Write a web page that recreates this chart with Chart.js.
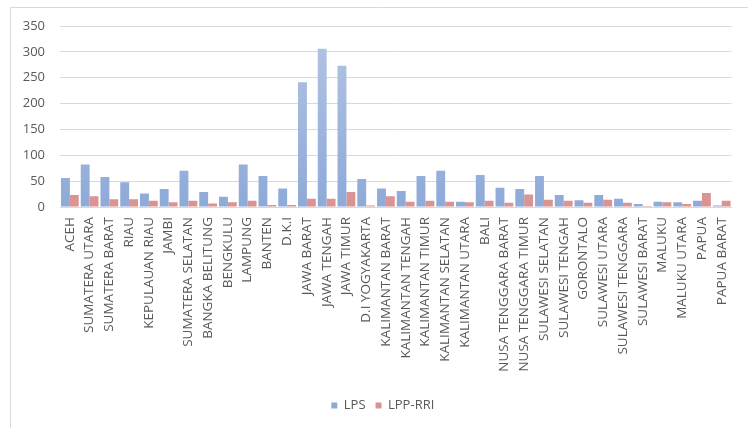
<!DOCTYPE html>
<html>
<head>
<meta charset="utf-8">
<script src="https://cdn.jsdelivr.net/npm/chart.js@4.4.1/dist/chart.umd.min.js"></script>
<style>
  html, body { margin: 0; padding: 0; background: #ffffff; }
  #wrap { position: relative; width: 748px; height: 428px; }
  canvas { display: block; }
</style>
</head>
<body>
<div id="wrap"><canvas id="chart" width="748" height="428"></canvas></div>
<script>
// Provinces along the horizontal axis
const provinces = [
  "ACEH", "SUMATERA UTARA", "SUMATERA BARAT", "RIAU", "KEPULAUAN RIAU", "JAMBI",
  "SUMATERA SELATAN", "BANGKA BELITUNG", "BENGKULU", "LAMPUNG", "BANTEN", "D.K.I",
  "JAWA BARAT", "JAWA TENGAH", "JAWA TIMUR", "D.I YOGYAKARTA", "KALIMANTAN BARAT",
  "KALIMANTAN TENGAH", "KALIMANTAN TIMUR", "KALIMANTAN SELATAN", "KALIMANTAN UTARA",
  "BALI", "NUSA TENGGARA BARAT", "NUSA TENGGARA TIMUR", "SULAWESI SELATAN",
  "SULAWESI TENGAH", "GORONTALO", "SULAWESI UTARA", "SULAWESI TENGGARA",
  "SULAWESI BARAT", "MALUKU", "MALUKU UTARA", "PAPUA", "PAPUA BARAT"
];

// Counts per province
const lpsValues = [56, 82, 58, 48, 26, 35, 70, 29, 20, 82, 60, 36, 241, 306, 273, 54, 36, 31,
                   60, 70, 10, 62, 37, 35, 60, 23, 13, 23, 16, 6, 10, 9, 12, 3];
const lppRriValues = [23, 21, 15, 15, 12, 9, 12, 7, 9, 12, 4, 4, 16, 16, 29, 3, 21, 10,
                      12, 10, 9, 12, 8, 24, 14, 12, 8, 14, 8, 2, 9, 6, 27, 12];

const seriesNames = ["LPS", "LPP-RRI"];
const yTicks = [0, 50, 100, 150, 200, 250, 300, 350];

const textColor = "#595959";
const gridColor = "#d9d9d9";
const fontFamily = "'Open Sans', 'Liberation Sans', sans-serif";

// Vertical gradient fill, light at the top of the plot and deeper at the base
function gradientFill(top, bottom) {
  return (ctx) => {
    const area = ctx.chart.chartArea;
    if (!area) return bottom;
    const g = ctx.chart.ctx.createLinearGradient(0, area.top, 0, area.bottom);
    g.addColorStop(0, top);
    g.addColorStop(1, bottom);
    return g;
  };
}

// Thin frame line on the top and left edges of the chart box
const framePlugin = {
  id: "frame",
  beforeDraw(chart) {
    const c = chart.ctx;
    c.save();
    c.strokeStyle = gridColor;
    c.lineWidth = 1;
    c.beginPath();
    c.moveTo(10.5, 428);
    c.lineTo(10.5, 7.5);
    c.lineTo(748, 7.5);
    c.stroke();
    c.restore();
  }
};

// Centre the legend under the plot area rather than the whole canvas
const legendShift = {
  id: "legendShift",
  afterLayout(chart) {
    const lg = chart.legend;
    if (!lg) return;
    const dx = (chart.chartArea.left + chart.chartArea.right) / 2 - (lg.left + lg.right) / 2 - 13;
    lg.left += dx;
    lg.right += dx;
  }
};

new Chart(document.getElementById("chart"), {
  type: "bar",
  data: {
    labels: provinces,
    datasets: [
      {
        label: seriesNames[0],
        data: lpsValues,
        backgroundColor: gradientFill("#b4c5e4", "#8eaad8"),
        borderWidth: 0,
        categoryPercentage: 0.9,
        barPercentage: 1.0
      },
      {
        label: seriesNames[1],
        data: lppRriValues,
        backgroundColor: gradientFill("#ebb2b0", "#d99391"),
        borderWidth: 0,
        categoryPercentage: 0.9,
        barPercentage: 1.0
      }
    ]
  },
  options: {
    responsive: false,
    animation: false,
    devicePixelRatio: 1,
    layout: { padding: { top: 26, right: 6, left: 0, bottom: 6 } },
    plugins: {
      legend: {
        position: "bottom",
        labels: {
          color: textColor,
          font: { family: fontFamily, size: 13 },
          boxWidth: 6,
          boxHeight: 6,
          padding: 10
        }
      },
      tooltip: { enabled: false }
    },
    scales: {
      x: {
        grid: { display: false, drawTicks: false },
        border: { display: true, color: gridColor },
        ticks: {
          color: textColor,
          font: { family: fontFamily, size: 13.5 },
          minRotation: 90,
          maxRotation: 90,
          autoSkip: false,
          padding: 10
        },
        afterFit(scale) { scale.height = 182; }
      },
      y: {
        min: 0,
        max: 350,
        afterBuildTicks(scale) { scale.ticks = yTicks.map(v => ({ value: v })); },
        grid: { color: gridColor, drawTicks: false, lineWidth: 1 },
        border: { display: false },
        ticks: {
          color: textColor,
          font: { family: fontFamily, size: 13 },
          padding: 15
        },
        afterFit(scale) { scale.width = 60; }
      }
    }
  },
  plugins: [framePlugin, legendShift]
});
</script>
</body>
</html>
